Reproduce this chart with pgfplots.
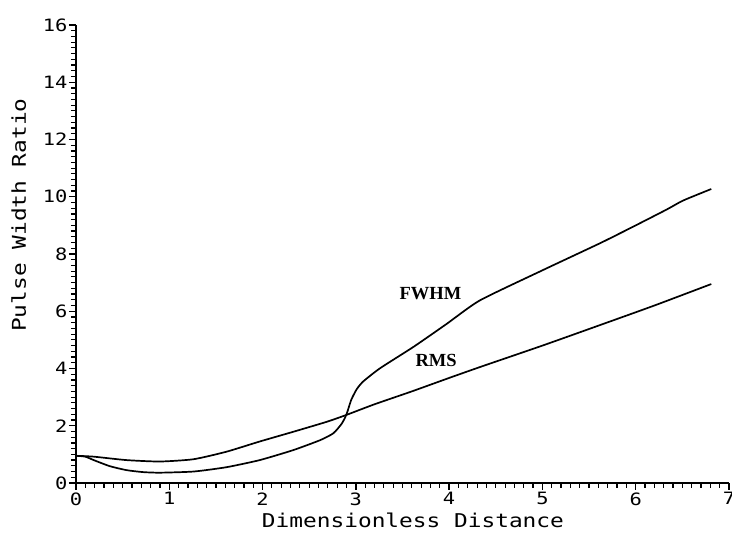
\documentclass[border=0pt]{standalone}
\usepackage{fontspec}
\usepackage{pgfplots}
\pgfplotsset{compat=1.18}
\newfontfamily\plotfont[FakeStretch=1.2]{DejaVu Sans Mono}
\newfontfamily\curvefont{Liberation Serif}

\pgfplotstableread{
x y
0.00 0.95
0.19 0.92
0.54 0.80
0.90 0.75
1.26 0.83
1.61 1.09
1.97 1.45
2.33 1.79
2.69 2.14
2.90 2.38
3.20 2.75
3.60 3.20
4.00 3.67
4.33 4.05
5.00 4.80
5.62 5.52
6.20 6.20
6.81 6.95
}\rmsdata

\pgfplotstableread{
x y
0.00 0.95
0.10 0.92
0.19 0.80
0.36 0.59
0.54 0.45
0.72 0.38
0.90 0.36
1.26 0.40
1.61 0.55
1.97 0.80
2.33 1.15
2.62 1.50
2.76 1.74
2.85 2.08
2.90 2.40
2.95 2.90
3.01 3.28
3.08 3.55
3.26 4.01
3.62 4.76
3.97 5.55
4.33 6.38
5.00 7.43
5.62 8.38
5.97 8.95
6.33 9.55
6.51 9.87
6.81 10.27
}\fwhmdata

\begin{document}
\begin{tikzpicture}
\path[use as bounding box] (-76pt,-54pt) rectangle (656pt,483pt);
\begin{axis}[
  at={(0pt,0pt)}, anchor=south west,
  scale only axis,
  width=653pt, height=458pt,
  xmin=0, xmax=7, ymin=0, ymax=16,
  axis x line=bottom, axis y line=left,
  axis line style={-, line width=1.4pt},
  xtick={0,...,7}, ytick={0,2,...,16},
  minor xtick={0,0.1,...,7}, minor ytick={0,0.2,...,16},
  tick align=outside,
  major tick length=7pt, minor tick length=5pt,
  major tick style={line width=1.3pt, black},
  minor tick style={line width=1.2pt, black},
  /pgf/number format/assume math mode=true,
  tick label style={font=\plotfont\fontsize{17}{17}\selectfont},
  xticklabel style={yshift=1pt},
  yticklabel style={xshift=2pt},
  label style={font=\plotfont\fontsize{19}{19}\selectfont},
  xlabel={Dimensionless Distance},
  ylabel={Pulse Width Ratio},
  xlabel style={at={(ticklabel cs:0.516)}, anchor=near ticklabel, yshift=-1pt},
  ylabel style={at={(ticklabel cs:0.585)}, anchor=near ticklabel, yshift=10pt},
  clip=false,
]
\addplot[black, line width=1.7pt, smooth, tension=0.35] table[x=x,y=y] {\rmsdata};
\addplot[black, line width=1.7pt, smooth, tension=0.35] table[x=x,y=y] {\fwhmdata};
\node[font=\curvefont\bfseries\fontsize{18.5}{18.5}\selectfont] at (axis cs:3.80,6.61) {FWHM};
\node[font=\curvefont\bfseries\fontsize{18.5}{18.5}\selectfont] at (axis cs:3.86,4.27) {RMS};
\end{axis}
\end{tikzpicture}
\end{document}
